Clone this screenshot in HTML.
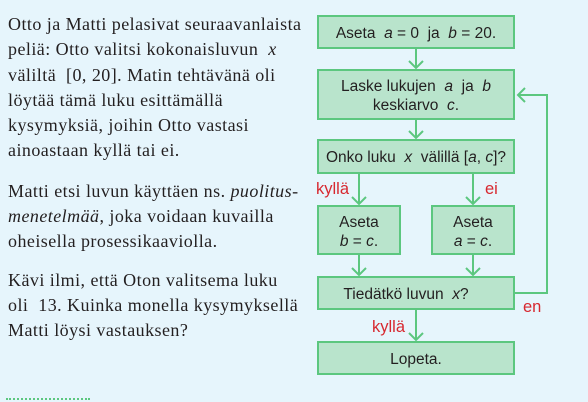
<!DOCTYPE html>
<html><head><meta charset="utf-8"><style>
body{margin:0;width:588px;height:402px;background:#e6f5fc;overflow:hidden;position:relative}
.t{position:absolute;left:8px;font-family:"Liberation Serif",serif;font-size:18px;letter-spacing:0.45px;color:#231f20;white-space:nowrap;line-height:20px}
</style></head><body>
<div class="t" style="top:14px">Otto ja Matti pelasivat seuraavanlaista</div>
<div class="t" style="top:39px">peliä: Otto valitsi kokonaisluvun&nbsp; <i>x</i></div>
<div class="t" style="top:65px">väliltä&nbsp; [0, 20]. Matin tehtävänä oli</div>
<div class="t" style="top:90px">löytää tämä luku esittämällä</div>
<div class="t" style="top:115px">kysymyksiä, joihin Otto vastasi</div>
<div class="t" style="top:140px">ainoastaan kyllä tai ei.</div>
<div class="t" style="top:181px">Matti etsi luvun käyttäen ns. <i>puolitus-</i></div>
<div class="t" style="top:206px"><i>menetelmää</i>, joka voidaan kuvailla</div>
<div class="t" style="top:231px">oheisella prosessikaaviolla.</div>
<div class="t" style="top:270px">Kävi ilmi, että Oton valitsema luku</div>
<div class="t" style="top:295px">oli&nbsp; 13. Kuinka monella kysymyksellä</div>
<div class="t" style="top:320px">Matti löysi vastauksen?</div>
<div style="position:absolute;left:6px;top:398px;width:84px;border-top:2px dotted #5cc77f"></div>
<svg width="588" height="402" style="position:absolute;left:0;top:0" font-family="Liberation Sans, sans-serif" font-size="15.5" fill="#231f20">
<g fill="#b9e4cc" stroke="#5cc77f" stroke-width="2">
<rect x="318" y="16" width="196" height="32"/>
<rect x="318" y="70" width="196" height="49"/>
<rect x="318" y="140" width="196" height="33"/>
<rect x="318" y="206" width="82" height="48"/>
<rect x="432" y="206" width="82" height="48"/>
<rect x="318" y="277" width="196" height="32"/>
<rect x="318" y="342" width="196" height="32"/>
</g>
<g fill="none" stroke="#5cc77f" stroke-width="2">
<path d="M416 48V68M409 61L416 68L423 61"/>
<path d="M416 119V138M409 131L416 138L423 131"/>
<path d="M359 173V204M352 197L359 204L366 197"/>
<path d="M473 173V204M466 197L473 204L480 197"/>
<path d="M359 254V275M352 268L359 275L366 268"/>
<path d="M473 254V275M466 268L473 275L480 268"/>
<path d="M416 309V340M409 333L416 340L423 333"/>
<path d="M514 293H547V95H518M525 88L518 95L525 102"/>
</g>
<g text-anchor="middle">
<text x="416" y="38">Aseta&nbsp; <tspan font-style="italic">a</tspan> = 0&nbsp; ja&nbsp; <tspan font-style="italic">b</tspan> = 20.</text>
<text x="416" y="91">Laske lukujen&nbsp; <tspan font-style="italic">a</tspan>&nbsp; ja&nbsp; <tspan font-style="italic">b</tspan></text>
<text x="416" y="110">keskiarvo&nbsp; <tspan font-style="italic">c</tspan>.</text>
<text x="416" y="162">Onko luku&nbsp; <tspan font-style="italic">x</tspan>&nbsp; välillä [<tspan font-style="italic">a</tspan>, <tspan font-style="italic">c</tspan>]?</text>
<text x="359" y="227">Aseta</text>
<text x="359" y="246"><tspan font-style="italic">b</tspan> = <tspan font-style="italic">c</tspan>.</text>
<text x="473" y="227">Aseta</text>
<text x="473" y="246"><tspan font-style="italic">a</tspan> = <tspan font-style="italic">c</tspan>.</text>
<text x="406" y="299">Tiedätkö luvun&nbsp; <tspan font-style="italic">x</tspan>?</text>
<text x="416" y="364">Lopeta.</text>
</g>
<g fill="#d7282f" font-size="16.5">
<text x="316" y="194">kyllä</text>
<text x="485" y="194">ei</text>
<text x="372" y="332">kyllä</text>
<text x="523" y="312">en</text>
</g>
</svg>
</body></html>
